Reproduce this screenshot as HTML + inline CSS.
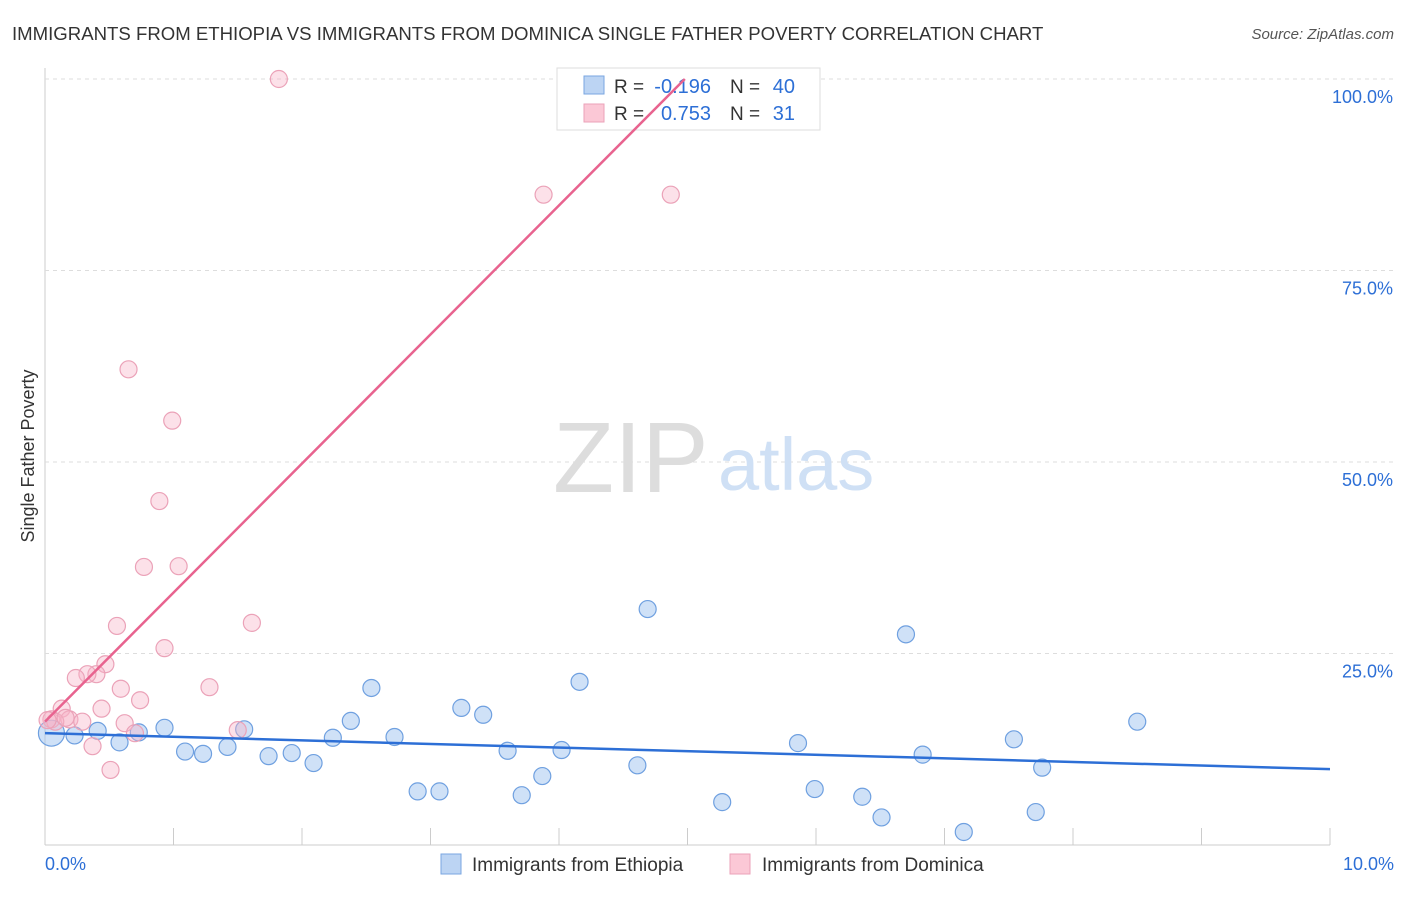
<!DOCTYPE html>
<html><head><meta charset="utf-8"><style>
body{margin:0;background:#fff;font-family:"Liberation Sans",sans-serif;}
svg text{font-family:"Liberation Sans",sans-serif;}
</style></head><body>
<svg id="chart" width="1406" height="892" xmlns="http://www.w3.org/2000/svg">
<text x="12" y="40" font-size="18.6" fill="#333">IMMIGRANTS FROM ETHIOPIA VS IMMIGRANTS FROM DOMINICA SINGLE FATHER POVERTY CORRELATION CHART</text>
<text x="1394" y="39" font-size="15" fill="#555" font-style="italic" text-anchor="end">Source: ZipAtlas.com</text>
<text transform="translate(34,456) rotate(-90)" font-size="18" fill="#333" text-anchor="middle">Single Father Poverty</text>
<g id="grid"></g>
<text x="553" y="492" font-size="100" fill="#ddd" font-family="Liberation Serif">ZIP</text>
<text x="718" y="490" font-size="74" fill="#cfe0f5">atlas</text>
<g id="points"></g>
<g>
<rect x="557" y="68" width="263" height="62" fill="#fff" stroke="#ddd"/>
<rect x="584" y="76" width="20" height="18" fill="#bcd4f3" stroke="#7aa6e0"/>
<rect x="584" y="104" width="20" height="18" fill="#fbc8d6" stroke="#eba2b8"/>
<text x="614" y="93" font-size="19" fill="#333">R =</text>
<text x="711" y="93" font-size="20" fill="#2d6fd6" text-anchor="end">-0.196</text>
<text x="730" y="93" font-size="19" fill="#333">N =</text>
<text x="795" y="93" font-size="20" fill="#2d6fd6" text-anchor="end">40</text>
<text x="614" y="120" font-size="19" fill="#333">R =</text>
<text x="711" y="120" font-size="20" fill="#2d6fd6" text-anchor="end">0.753</text>
<text x="730" y="120" font-size="19" fill="#333">N =</text>
<text x="795" y="120" font-size="20" fill="#2d6fd6" text-anchor="end">31</text>
</g>
<g id="lines"></g>
<text x="45" y="870" font-size="18" fill="#2d6fd6">0.0%</text>
<text x="1394" y="870" font-size="18" fill="#2d6fd6" text-anchor="end">10.0%</text>
<g>
<rect x="441" y="854" width="20" height="20" fill="#bcd4f3" stroke="#7aa6e0"/>
<text x="472" y="871" font-size="19" fill="#333">Immigrants from Ethiopia</text>
<rect x="730" y="854" width="20" height="20" fill="#fbc8d6" stroke="#eba2b8"/>
<text x="762" y="871" font-size="19" fill="#333">Immigrants from Dominica</text>
</g>
</svg>
<script>
const yTicks=[25,50,75,100];
const yTickLabels=["25.0%","50.0%","75.0%","100.0%"];
const xTicks=[0,1,2,3,4,5,6,7,8,9,10];
const ethX=[0.05,0.23,0.41,0.58,0.73,0.93,1.09,1.23,1.42,1.55,1.74,1.92,2.09,2.24,2.38,2.54,2.72,2.90,3.07,3.24,3.41,3.60,3.71,3.87,4.02,4.16,4.61,4.69,5.27,5.86,5.99,6.36,6.51,6.70,6.83,7.15,7.54,7.71,7.76,8.50];
const ethY=[14.6,14.3,14.9,13.4,14.7,15.3,12.2,11.9,12.8,15.1,11.6,12.0,10.7,14.0,16.2,20.5,14.1,7.0,7.0,17.9,17.0,12.3,6.5,9.0,12.4,21.3,10.4,30.8,5.6,13.3,7.3,6.3,3.6,27.5,11.8,1.7,13.8,4.3,10.1,16.1];
const domX=[1.82,3.88,4.87,0.65,0.99,0.89,0.77,1.04,0.56,1.61,0.93,0.47,0.40,0.33,0.24,0.59,1.28,0.74,0.13,0.44,0.05,0.19,0.29,0.62,1.50,0.70,0.37,0.51,0.08,0.02,0.16];
const domY=[100,84.9,84.9,62.1,55.4,44.9,36.3,36.4,28.6,29.0,25.7,23.6,22.3,22.3,21.8,20.4,20.6,18.9,17.8,17.8,16.4,16.4,16.1,15.9,15.0,14.6,12.9,9.8,16.1,16.3,16.6];
const ethLine=[14.6,9.9];
const domLine=[16.1,16.85];
const NS="http://www.w3.org/2000/svg";
const X=v=>45+v*128.5, Y=v=>845-v*7.66;
const grid=document.getElementById('grid');
function mk(t,a,p){const e=document.createElementNS(NS,t);for(const k in a)e.setAttribute(k,a[k]);p.appendChild(e);return e;}
let ax=mk('line',{x1:45,y1:68,x2:45,y2:845,stroke:'#ccc'},grid);


let bx=mk('line',{x1:45,y1:845,x2:1330,y2:845,stroke:'#ccc'},grid);


yTicks.forEach((t,i)=>{
 const g=mk('line',{x1:45,y1:Y(t),x2:1394,y2:Y(t),stroke:'#ddd','stroke-dasharray':'4,4'},grid);
 
 
 const tx=mk('text',{x:1393,y:Y(t)+24,'font-size':18,fill:'#2d6fd6','text-anchor':'end'},grid);
 tx.textContent=yTickLabels[i];
 
 
});
xTicks.forEach(t=>{
 const l=mk('line',{x1:X(t),y1:828,x2:X(t),y2:845,stroke:'#ccc'},grid);
 
 
});
const pts=document.getElementById('points');
ethX.forEach((x,i)=>{
 const c=mk('circle',{cx:X(x),cy:Y(ethY[i]),r:i==0?13:8.5,fill:'rgba(160,196,240,0.5)',stroke:'#6fa0e0','stroke-width':1.2},pts);
 
 
});
domX.forEach((x,i)=>{
 const c=mk('circle',{cx:X(x),cy:Y(domY[i]),r:8.5,fill:'rgba(248,180,200,0.4)',stroke:'#eba2b8','stroke-width':1.2},pts);
 
 
});
const ln=document.getElementById('lines');
const l1=mk('line',{x1:X(0),y1:Y(ethLine[0]),x2:X(10),y2:Y(ethLine[1]),stroke:'#2d6fd6','stroke-width':2.5},ln);


const xe=(100-domLine[0])/domLine[1];
const l2=mk('line',{x1:X(0),y1:Y(domLine[0]),x2:X(xe),y2:Y(100),stroke:'#e8638f','stroke-width':2.5},ln);


</script>
</body></html>
